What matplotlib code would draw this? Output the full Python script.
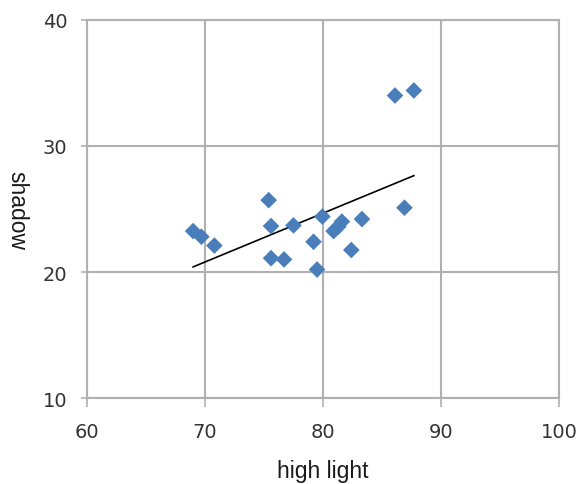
import numpy as np
import matplotlib
matplotlib.use("Agg")
import matplotlib.pyplot as plt

high_light = [69.0, 69.7, 70.8, 75.4, 75.6, 75.6, 76.7, 77.5, 79.2, 79.5,
              79.95, 80.9, 81.3, 81.6, 82.4, 83.3, 86.1, 87.7, 86.9]
shadow = [23.25, 22.8, 22.1, 25.7, 23.65, 21.1, 21.0, 23.7, 22.4, 20.2,
          24.4, 23.25, 23.6, 24.0, 21.75, 24.2, 34.0, 34.4, 25.1]

x_ticks = [60, 70, 80, 90, 100]
y_ticks = [10, 20, 30, 40]

fig = plt.figure(figsize=(5.83, 4.85), dpi=100)
ax = fig.add_axes([0.149, 0.177, 0.81, 0.78])

x = np.array(high_light)
y = np.array(shadow)
slope, intercept = np.polyfit(x, y, 1)
xs = np.array([x.min(), x.max()])
ax.plot(xs, slope * xs + intercept, color="black", lw=1.2, zorder=3)

ax.scatter(x, y, marker="D", s=72, color="#4a7ebb", edgecolors="none", zorder=4)

ax.set_xlim(60, 100)
ax.set_ylim(10, 40)
ax.set_xticks(x_ticks)
ax.set_yticks(y_ticks)
ax.grid(True, color="#b0b0b0", lw=1.5)
ax.set_axisbelow(True)
for s in ax.spines.values():
    s.set_color("#b0b0b0")
    s.set_linewidth(1.5)
ax.tick_params(axis="x", direction="out", length=6.5, width=1.2, color="#b0b0b0",
               labelsize=14, labelcolor="#333333", pad=10.5)
ax.tick_params(axis="y", direction="out", length=4.5, width=1.2, color="#b0b0b0",
               labelsize=14, labelcolor="#333333", pad=9.5)
for lab in ax.get_xticklabels() + ax.get_yticklabels():
    lab.set_family("DejaVu Sans")
ax.set_xlabel("high light", fontsize=16.5, family="Liberation Sans",
              color="#1a1a1a", va="baseline")
ax.xaxis.set_label_coords(0.5, -0.209)
ax.set_ylabel("shadow", fontsize=16.5, family="Liberation Sans", color="#1a1a1a",
              rotation=270, va="center", ha="center")
ax.yaxis.set_label_coords(-0.148, 0.5)

fig.savefig("out.png", dpi=100)
